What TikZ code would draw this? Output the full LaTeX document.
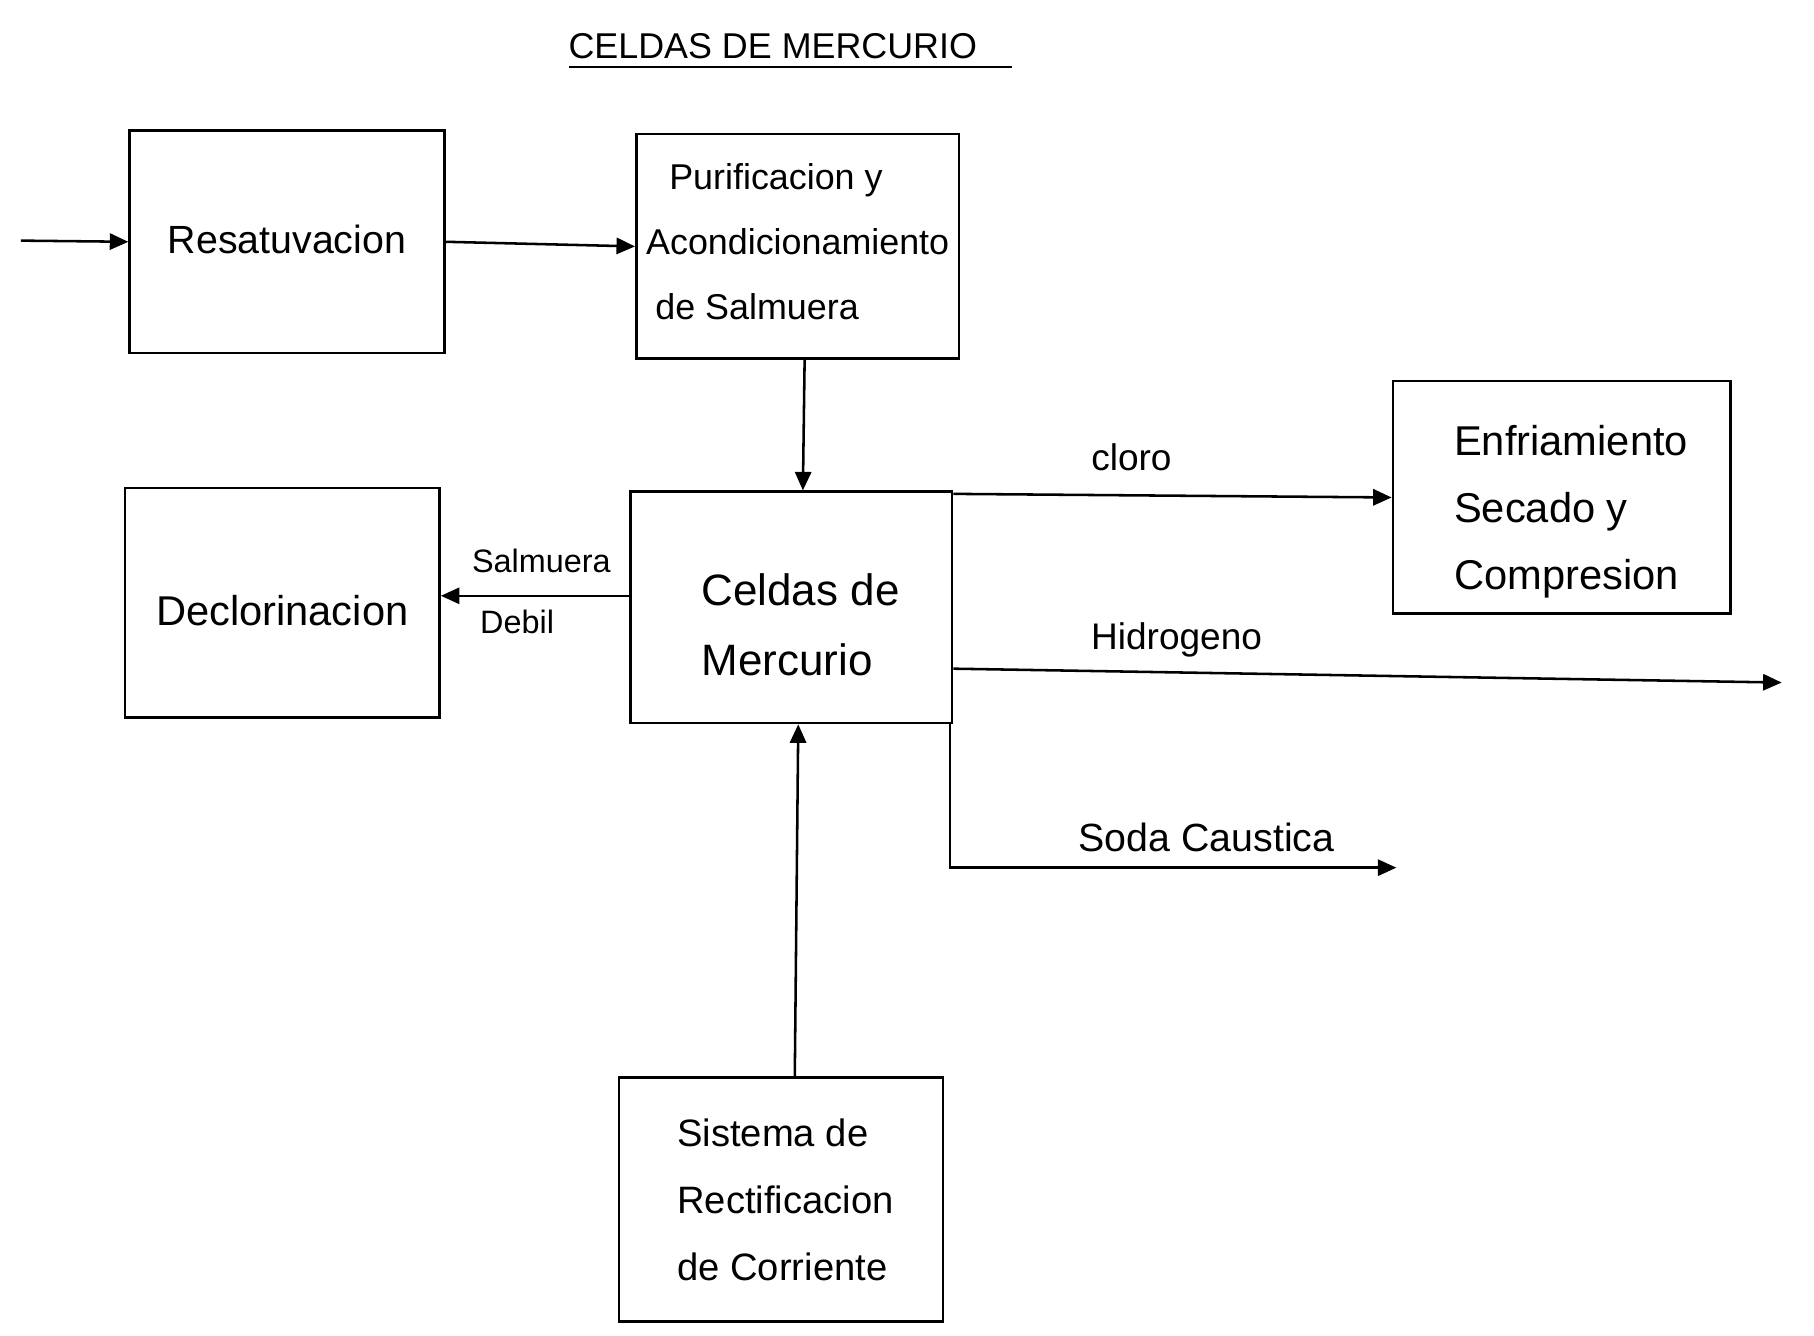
\documentclass[tikz,border=0pt]{standalone}
\usepackage{fontspec}
\setmainfont{Liberation Sans}
\usetikzlibrary{arrows.meta}
\begin{document}
\begin{tikzpicture}[x=0.5pt,y=-0.5pt,
  blk/.style={draw,line width=1.1pt,inner sep=0pt},
  txt/.style={align=left,inner sep=0pt,font=\fontsize{17}{29}\selectfont},
  conn/.style={line width=1.1pt,-{Triangle[length=8pt,width=7pt]}},
  lbl/.style={font=\fontsize{16}{18}\selectfont,inner sep=1pt}]
\useasboundingbox (0,0) rectangle (1568,1154);
% title
\node[font=\fontsize{15.5}{18}\selectfont] (title) at (668,40) {CELDAS DE MERCURIO};
\coordinate (ul1) at (492,58);
\coordinate (ul2) at (875,58);
\draw[line width=1.1pt] (ul1) -- (ul2);
% boxes
\node[blk,minimum width=136pt,minimum height=96pt] (resat) at (248,209) {};
\node[blk,minimum width=139.5pt,minimum height=97pt] (purif) at (689.5,213) {};
\node[blk,minimum width=139pt,minimum height=100pt] (celdas) at (684,525) {};
\node[blk,minimum width=136pt,minimum height=99pt] (declor) at (244,521) {};
\node[blk,minimum width=146pt,minimum height=100.5pt] (enf) at (1350,430) {};
\node[blk,minimum width=140pt,minimum height=105.5pt] (sist) at (675,1037) {};
% box texts
\node[txt] (resatT) at ([yshift=1pt]resat.center) {Resatuvacion};
\node[txt,font=\fontsize{15.5}{28}\selectfont] (purifT) at ([yshift=2pt]purif.center) {\hspace*{10pt}Purificacion y\\Acondicionamiento\\\hspace*{4pt}de Salmuera};
\node[txt,font=\fontsize{19}{30}\selectfont] (celdasT) at ([xshift=4pt,yshift=-7.5pt]celdas.center) {Celdas de\\Mercurio};
\node[txt,font=\fontsize{18}{29}\selectfont] (declorT) at ([yshift=-3.5pt]declor.center) {Declorinacion};
\node[txt,font=\fontsize{18}{29}\selectfont] (enfT) at ([xshift=4pt,yshift=-6pt]enf.center) {Enfriamiento\\Secado y\\Compresion};
\node[txt,font=\fontsize{16.5}{29}\selectfont] (sistT) at ([xshift=2pt]sist.center) {Sistema de\\Rectificacion\\de Corriente};
% coordinates
\coordinate (in) at (18,208);
\coordinate (h2) at (1540,590);
\coordinate (soda) at (1207,750);
% connectors
\draw[conn] (in) -- (resat.west);
\draw[conn] (resat.east) -- (purif.west);
\draw[conn] ([xshift=3pt]purif.south) -- ([xshift=5pt]celdas.north);
\draw[conn] ([yshift=5pt]celdas.west) -- ([yshift=3pt]declor.east);
\draw[conn] ([yshift=-1.5pt]celdas.north east) -- (enf.west);
\draw[conn] ([yshift=-26.5pt]celdas.east) -- (h2);
\draw[conn] ([xshift=-1.5pt]celdas.south east) |- (soda);
\draw[conn] ([xshift=6pt]sist.north) -- ([xshift=3pt]celdas.south);
% labels
\node[lbl] (lcloro) at (978,395) {cloro};
\node[lbl] (lhid) at (1017,553) {Hidrogeno};
\node[lbl,font=\fontsize{17}{19}\selectfont] (lsoda) at (1043,724) {Soda Caustica};
\node[lbl,font=\fontsize{14}{16}\selectfont] (lsal) at (468,485) {Salmuera};
\node[lbl,font=\fontsize{14}{16}\selectfont] (ldeb) at (447,538) {Debil};
\end{tikzpicture}
\end{document}
